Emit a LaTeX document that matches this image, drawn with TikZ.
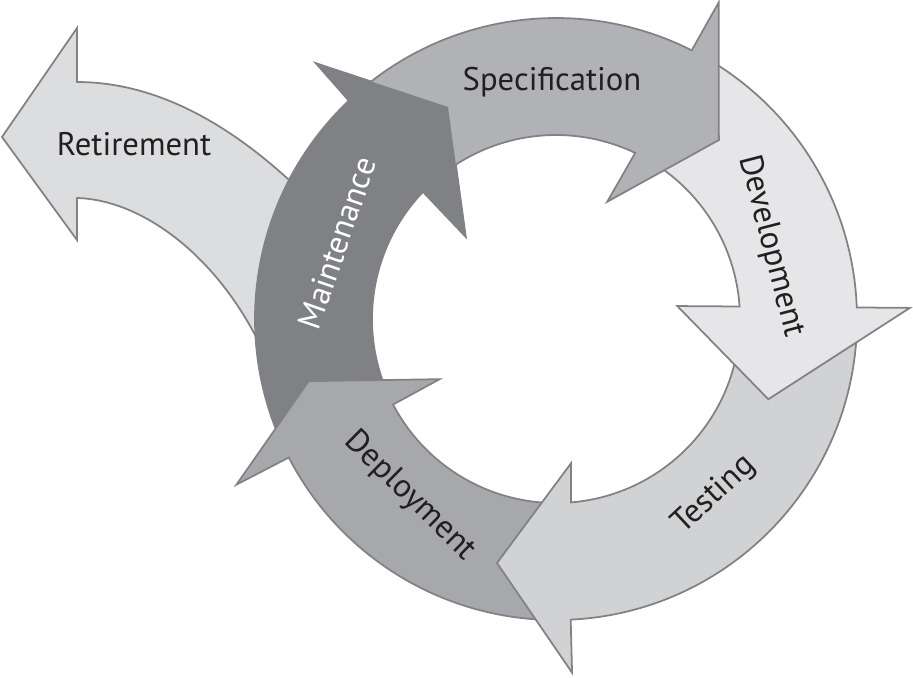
\documentclass[tikz,border=0pt]{standalone}
\usepackage{fontspec}
\setmainfont{PT Sans}
\usepackage{tikz}

\definecolor{retirefill}{RGB}{220,221,223}
\definecolor{specfill}{RGB}{177,178,181}
\definecolor{devfill}{RGB}{230,230,232}
\definecolor{testfill}{RGB}{209,210,212}
\definecolor{deployfill}{RGB}{167,168,171}
\definecolor{maintfill}{RGB}{128,129,132}
\definecolor{edgegray}{RGB}{130,130,133}
\definecolor{inkgray}{RGB}{35,31,32}

\begin{document}
\begin{tikzpicture}[
    stage/.style={draw=edgegray, line width=0.5pt, line join=miter},
    stagetext/.style={font=\fontsize{9.3}{11}\selectfont, text=inkgray}]
  \useasboundingbox (0,0) rectangle (9.13,6.77);

  % retirement leaves the cycle to the left
  \draw[stage, fill=retirefill] (0.02,5.40) -- (0.77,6.49) -- (0.77,5.95)
    .. controls (1.70,5.95) and (2.50,5.37) .. (3.10,4.77) -- (2.75,2.97)
    .. controls (2.35,4.07) and (1.50,4.77) .. (0.77,4.79) -- (0.77,4.37) -- cycle;

  \begin{scope}[shift={(5.56,3.58)}]
    \draw[stage, fill=maintfill, draw=maintfill] (204:3.01) arc[start angle=204, end angle=133.5, radius=3.01]
      -- (133.2:3.51) -- (117:2.38) -- (137.7:1.22) -- (136.3:1.84) arc[start angle=136.3, end angle=204, radius=1.84] -- cycle;
    \draw[stage, fill=deployfill] (270:3.01) arc[start angle=270, end angle=207.4, radius=3.01]
      -- (207.4:3.60) -- (194.1:2.55) -- (207.35:1.31) -- (207.7:1.84) arc[start angle=207.7, end angle=270, radius=1.84] -- cycle;
    \draw[stage, fill=testfill] (-2:3.01) arc[start angle=-2, end angle=-87.2, radius=3.01]
      -- (-87.4:3.54) -- (-103.6:2.51) -- (-84.05:1.45) -- (-85.3:1.84) arc[start angle=-85.3, end angle=-2, radius=1.84] -- cycle;
    \draw[stage, fill=devfill] (60:3.01) arc[start angle=60, end angle=2.2, radius=3.01]
      -- (1.8:3.54) -- (-20.7:2.27) -- (6.1:1.22) -- (3.9:1.84) arc[start angle=3.9, end angle=60, radius=1.84] -- cycle;
    \draw[stage, fill=specfill] (130:3.01) arc[start angle=130, end angle=63.2, radius=3.01]
      -- (62.8:3.56) -- (47.7:2.42) -- (66.4:1.28) -- (64.5:1.84) arc[start angle=64.5, end angle=130, radius=1.84] -- cycle;
    % maintenance head lies over the specification tail
    \fill[maintfill] (133.2:3.51) -- (117:2.38) -- (137.7:1.22) -- cycle;
  \end{scope}

  \node[stagetext] (retire) at (1.34,5.33) {Retirement};
  \node[stagetext] (spec) at (5.52,5.95) {Specification};
  \node[stagetext, rotate=-75.5] (dev) at (7.71,4.31) {Development};
  \node[stagetext, rotate=43] (test) at (7.14,1.82) {Testing};
  \node[stagetext, rotate=-44.5] (deploy) at (4.10,1.81) {Deployment};
  \node[stagetext, rotate=71, text=white] (maint) at (3.37,4.34) {Maintenance};
\end{tikzpicture}
\end{document}
